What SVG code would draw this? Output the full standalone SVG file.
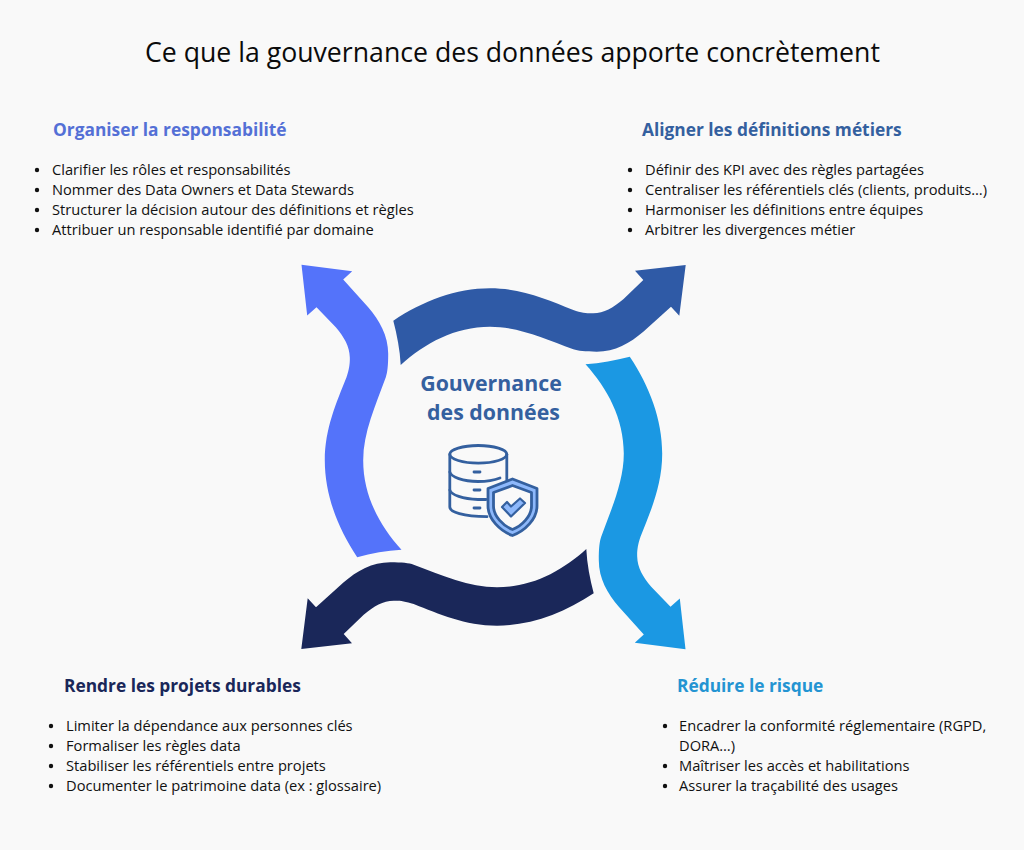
<svg xmlns="http://www.w3.org/2000/svg" width="1024" height="850" viewBox="0 0 1024 850">
<style>
text{font-family:"Open Sans","Noto Sans","Liberation Sans",sans-serif}
.title{font-size:26.67px;fill:#0b0b0b}
.h{font-size:17.33px;font-weight:700}
.li{font-size:14.67px;fill:#111}
.c{font-size:21.33px;font-weight:700;fill:#34609f;text-anchor:middle}
.ic{fill:none;stroke:#34609f;stroke-width:2.8;stroke-linecap:round;stroke-linejoin:round}
</style>
<defs>
<path id="sw" d="M393.3 320.7C423 301 456 288.3 490 288.3C522 288.3 548 300 573.3 310C582 313 588 313.5 593.3 313.3C604 313 613 308 623.3 299.300L643.3 280L635 270.7L685.7 265L679.3 315.7L671 306.7L643.3 331.7C630 343 615 351.7 596.7 351.7C585 351.7 578 351 573.3 349.3C545 339 518 326.7 490 326.7C455 326.7 425 343 400.7 365C400 350 397 335 393.3 320.7Z"/>
<circle id="bul" r="2.2" fill="#111"/>
</defs>
<rect width="1024" height="850" fill="#f9f9f9"/>
<text class="title" x="145" y="62">Ce que la gouvernance des données apporte concrètement</text>
<g id="connectors">
<use href="#sw" fill="#2f5aa6"/>
<use href="#sw" fill="#1b98e3" transform="rotate(90 493.5 457)"/>
<use href="#sw" fill="#1a2759" transform="rotate(180 493.5 457)"/>
<use href="#sw" fill="#5473fa" transform="rotate(270 493.5 457)"/>
</g>
<g id="center">
<text class="c" x="491" y="391">Gouvernance</text>
<text class="c" x="493.500" y="420">des données</text>
<g class="ic">
<ellipse cx="478.3" cy="454.3" rx="28.5" ry="8.8"/>
<path d="M449.8 454.3V507C449.8 512 463 516.5 487 516.700"/>
<path d="M506.8 454.3V480"/>
<path d="M449.8 472C451 477 463 481.5 478 481.5C486 481.5 495 480 500 478"/>
<path d="M449.8 490C451 495 463 499 478 499.5L486 499.500"/>
<path d="M474 472h6M474 490h6M474 508h6"/>
<path d="M512.500 479L537 488.500V506C537 519 525 531 512.500 535.500C500 531 488 519 488 506V488.500Z" fill="#8db8fb"/>
<path d="M512.500 485.500L531.500 492.500V506C531.500 516 522 526 512.500 529.500C503 526 493.500 516 493.500 506V492.500Z" fill="#f9f9f9"/>
<path d="M502 507L507 502L511 506.500L520 498.500L525 503L511 516.500Z" fill="#8db8fb" stroke-width="2.2"/>
</g>
</g>
<g id="n-organiser">
<text class="h" x="53" y="136" fill="#5470d6">Organiser la responsabilité</text>
<use href="#bul" x="37" y="170"/><use href="#bul" x="37" y="190"/><use href="#bul" x="37" y="210"/><use href="#bul" x="37" y="230"/>
<text class="li" x="52" y="175">Clarifier les rôles et responsabilités</text>
<text class="li" x="52" y="195">Nommer des Data Owners et Data Stewards</text>
<text class="li" x="52" y="215">Structurer la décision autour des définitions et règles</text>
<text class="li" x="52" y="235">Attribuer un responsable identifié par domaine</text>
</g>
<g id="n-aligner">
<text class="h" x="642" y="136" fill="#34609f">Aligner les définitions métiers</text>
<use href="#bul" x="630" y="170"/><use href="#bul" x="630" y="190"/><use href="#bul" x="630" y="210"/><use href="#bul" x="630" y="230"/>
<text class="li" x="645" y="175">Définir des KPI avec des règles partagées</text>
<text class="li" x="645" y="195">Centraliser les référentiels clés (clients, produits…)</text>
<text class="li" x="645" y="215">Harmoniser les définitions entre équipes</text>
<text class="li" x="645" y="235">Arbitrer les divergences métier</text>
</g>
<g id="n-durables">
<text class="h" x="64" y="692" fill="#1a2759">Rendre les projets durables</text>
<use href="#bul" x="51" y="726"/><use href="#bul" x="51" y="746"/><use href="#bul" x="51" y="766"/><use href="#bul" x="51" y="786"/>
<text class="li" x="66" y="731">Limiter la dépendance aux personnes clés</text>
<text class="li" x="66" y="751">Formaliser les règles data</text>
<text class="li" x="66" y="771">Stabiliser les référentiels entre projets</text>
<text class="li" x="66" y="791">Documenter le patrimoine data (ex : glossaire)</text>
</g>
<g id="n-risque">
<text class="h" x="677" y="692" fill="#2494d2">Réduire le risque</text>
<use href="#bul" x="665" y="726"/><use href="#bul" x="665" y="766"/><use href="#bul" x="665" y="786"/>
<text class="li" x="679" y="731">Encadrer la conformité réglementaire (RGPD,</text>
<text class="li" x="679" y="751">DORA…)</text>
<text class="li" x="679" y="771">Maîtriser les accès et habilitations</text>
<text class="li" x="679" y="791">Assurer la traçabilité des usages</text>
</g>
</svg>
